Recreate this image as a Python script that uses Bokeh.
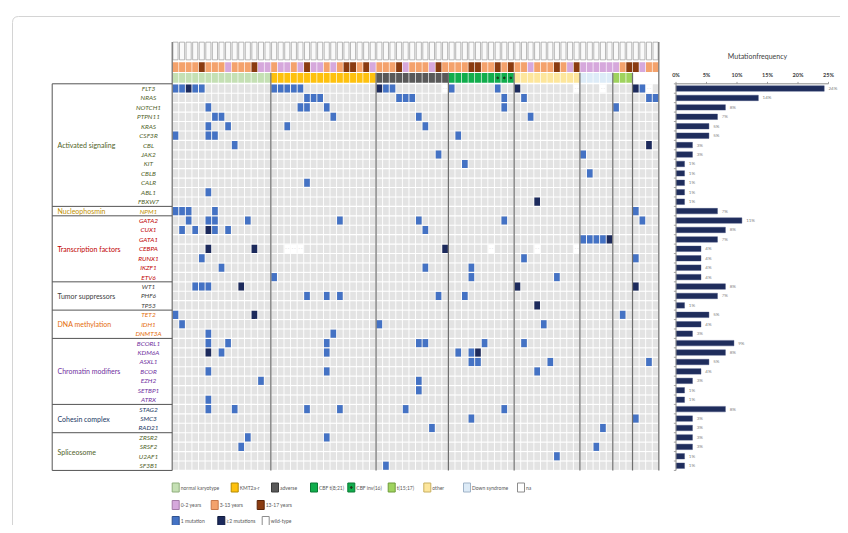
from bokeh.plotting import figure
from bokeh.models import Range1d
from bokeh.core.properties import value
from bokeh.embed import file_html
from bokeh.resources import INLINE

# ---------------- data ----------------
genes = ["FLT3", "NRAS", "NOTCH1", "PTPN11", "KRAS", "CSF3R", "CBL", "JAK2", "KIT", "CBLB", "CALR", "ABL1", "FBXW7",
         "NPM1",
         "GATA2", "CUX1", "GATA1", "CEBPA", "RUNX1", "IKZF1", "ETV6",
         "WT1", "PHF6", "TP53",
         "TET2", "IDH1", "DNMT3A",
         "BCORL1", "KDM6A", "ASXL1", "BCOR", "EZH2", "SETBP1", "ATRX",
         "STAG2", "SMC3", "RAD21",
         "ZRSR2", "SRSF2", "U2AF1", "SF3B1"]

group_names = ["Activated signaling", "Nucleophosmin", "Transcription factors", "Tumor suppressors",
               "DNA methylation", "Chromatin modifiers", "Cohesin complex", "Spliceosome"]
group_sizes = [13, 1, 7, 3, 3, 7, 3, 4]
group_colors = ["#4f6228", "#bf9000", "#c00000", "#404040", "#e46c0a", "#7030a0", "#203864", "#4f6228"]

# age per patient: L = 0-2 years, O = 3-13 years, B = 13-17 years
age = list("OOOOBOOOLOOOBLL" + "OLLOLBLLOLOBBOBL" + "OOOBLOOOLBO" + "OOOBBOOBOB" + "OOLOOOBOLB" + "LLLLL" + "LOB" + "BLOO")

# cytogenetics per patient
cyto = (["NK"] * 15 + ["KMT2A"] * 16 + ["ADV"] * 11 + ["CBF821"] * 7 + ["INV16"] * 3 +
        ["OTHER"] * 10 + ["DOWN"] * 5 + ["T1517"] * 3 + ["NA"] * 4)

# mutated patients (column index) per gene
one_mutation = {
    "FLT3": [0, 1, 3, 4, 15, 16, 17, 18, 19, 32, 33, 42, 49, 71],
    "NRAS": [20, 21, 22, 34, 35, 36, 50, 53, 72, 73],
    "NOTCH1": [5, 19, 20, 23, 50, 67],
    "PTPN11": [6, 7, 24, 37, 54],
    "KRAS": [5, 8, 17, 38],
    "CSF3R": [0, 5, 6, 43],
    "CBL": [9],
    "JAK2": [40, 62],
    "KIT": [44],
    "CBLB": [63],
    "CALR": [20],
    "ABL1": [5],
    "NPM1": [0, 1, 2, 6, 70],
    "GATA2": [2, 5, 6, 11, 25, 37, 50, 71],
    "CUX1": [1, 3, 6, 8, 38],
    "GATA1": [62, 63, 64, 65],
    "RUNX1": [4, 53, 70],
    "IKZF1": [7, 38, 45],
    "ETV6": [15, 45, 58],
    "WT1": [3, 4, 5],
    "PHF6": [20, 23, 25, 40, 44],
    "TET2": [0, 68],
    "IDH1": [1, 31, 56],
    "DNMT3A": [5, 24],
    "BCORL1": [5, 8, 23, 37, 38, 47, 53],
    "KDM6A": [7, 23, 43, 45],
    "ASXL1": [45, 46, 57, 72],
    "BCOR": [5, 23, 55],
    "EZH2": [13, 37],
    "SETBP1": [37],
    "ATRX": [5],
    "STAG2": [5, 9, 20, 25, 35, 50],
    "SMC3": [45, 70],
    "RAD21": [39, 65],
    "ZRSR2": [11, 23],
    "SRSF2": [10, 64],
    "U2AF1": [58],
    "SF3B1": [32],
}
two_mutations = {
    "FLT3": [2, 31, 52, 70],
    "CBL": [72],
    "FBXW7": [55],
    "CUX1": [5],
    "GATA1": [66],
    "CEBPA": [5, 12, 41],
    "WT1": [10, 52, 70],
    "TP53": [55],
    "TET2": [12],
    "KDM6A": [5, 46],
}
not_analysed = {
    "FLT3": [41, 61, 65, 72],
    "CEBPA": [17, 18, 19, 48, 55, 61],
}

# mutation frequency (%) per gene, as drawn, and the printed labels
freq = [24.3, 13.5, 8.1, 6.8, 5.4, 5.4, 2.7, 2.7, 1.4, 1.4, 1.4, 1.4, 1.4,
        6.8,
        10.8, 8.1, 6.8, 4.1, 4.1, 4.1, 4.1,
        8.1, 6.8, 1.4,
        5.4, 4.1, 2.7,
        9.5, 8.1, 5.4, 4.1, 2.7, 1.4, 1.4,
        8.1, 2.7, 2.7,
        2.7, 2.7, 1.4, 1.4]
freq_labels = ["24%", "14%", "8%", "7%", "5%", "5%", "3%", "3%", "1%", "1%", "1%", "1%", "1%",
               "7%",
               "11%", "8%", "7%", "4%", "4%", "4%", "4%",
               "8%", "7%", "1%",
               "5%", "4%", "3%",
               "9%", "8%", "5%", "4%", "3%", "1%", "1%",
               "8%", "3%", "3%",
               "3%", "3%", "1%", "1%"]
freq_ticks = [0, 5, 10, 15, 20, 25]

legend_cyto_labels = ["normal karyotype", "KMT2a-r", "adverse", "CBF t(8;21)", "CBF inv(16)", "t(15;17)",
                      "other", "Down syndrome", "na"]
legend_cyto_keys = ["NK", "KMT2A", "ADV", "CBF821", "INV16", "T1517", "OTHER", "DOWN", "NA"]
legend_age_labels = ["0-2 years", "3-13 years", "13-17 years"]
legend_age_keys = ["L", "O", "B"]
legend_mut_labels = ["1 mutation", "\u22652 mutations", "wild-type"]

# ---------------- styles ----------------
AGE_COL = {"L": "#d6a8dc", "O": "#f4a26c", "B": "#8a3b10"}
CYTO_COL = {"NK": "#c5e0b4", "KMT2A": "#fec10e", "ADV": "#595959", "CBF821": "#11ad4c", "INV16": "#11ad4c",
            "T1517": "#9fd35e", "OTHER": "#fde69c", "DOWN": "#ddebf7", "NA": "#ffffff"}
CYTO_GROUP = {"NK": 0, "KMT2A": 1, "ADV": 2, "CBF821": 3, "INV16": 3, "OTHER": 4, "DOWN": 5, "T1517": 6, "NA": 7}
WT_COL, ONE_COL, TWO_COL = "#e3e3e3", "#4472c4", "#1c2a5c"
FONT = value("Lato")

# layout, in picture pixels
GX0, CW = 171.7, 6.576      # heat-map left edge, column pitch
GY0, RH = 83.3, 9.43        # heat-map top edge, row pitch
BX0, BPX = 675.5, 6.1       # bar chart zero, px per %
PL, PR, PT, PB = 0, 840, 0, 525


def cx(px):
    return (px - GX0) / CW


def ry(py):
    return (py - GY0) / RH


def fx(px):
    return (px - BX0) / BPX


p = figure(width=PR - PL, height=PB - PT, output_backend="svg", toolbar_location=None,
           x_range=Range1d(cx(PL), cx(PR)), y_range=Range1d(ry(PB), ry(PT)),
           x_axis_location=None, y_axis_location=None, min_border=0,
           outline_line_color=None, background_fill_color="white", border_fill_color="white")
p.extra_x_ranges = {"freq": Range1d(fx(PL), fx(PR))}
p.xgrid.visible = False
p.ygrid.visible = False

ncol = len(age)
nrow = len(genes)
gi = {g: i for i, g in enumerate(genes)}

# outer frame
p.segment(x0=[cx(12)], y0=[ry(22)], x1=[cx(12)], y1=[ry(PB)], line_color="#d4d4d4", line_width=1)
p.segment(x0=[cx(18)], y0=[ry(16)], x1=[cx(PR)], y1=[ry(16)], line_color="#d4d4d4", line_width=1)
p.quadratic(x0=[cx(12)], y0=[ry(22)], x1=[cx(18)], y1=[ry(16)], cx=[cx(12)], cy=[ry(16)],
            line_color="#d4d4d4", line_width=1)

# wild-type background cells
bx = [c + 0.5 for r in range(nrow) for c in range(ncol)]
by = [r + 0.5 for r in range(nrow) for c in range(ncol)]
p.rect(bx, by, 0.86, 0.88, fill_color=WT_COL, line_color=None)


def cells(d):
    xs, ys = [], []
    for g, cols in d.items():
        for c in cols:
            xs.append(c + 0.5)
            ys.append(gi[g] + 0.5)
    return xs, ys


xs, ys = cells(not_analysed)
p.rect(xs, ys, 0.9, 0.9, fill_color="white", line_color=None)
p.text(xs, ys, text=["- -"] * len(xs), text_font=FONT, text_font_size="4px", text_color="#bdbdbd",
       text_align="center", text_baseline="middle")
xs, ys = cells(one_mutation)
p.rect(xs, ys, 0.86, 0.86, fill_color=ONE_COL, line_color=None)
xs, ys = cells(two_mutations)
p.rect(xs, ys, 0.86, 0.86, fill_color=TWO_COL, line_color=None)

# sample id strip, age strip, cytogenetics strip
colx = [c + 0.5 for c in range(ncol)]
p.rect(colx, [ry(50.5)] * ncol, 0.78, (59.5 - 41.8) / RH, fill_color="#fafafa", line_color="#9a9a9a",
       line_width=0.7)
p.rect(colx, [ry(66.6)] * ncol, 0.9, 9.6 / RH, fill_color=[AGE_COL[a] for a in age], line_color=None)
p.rect(colx, [ry(77.4)] * ncol, 0.9, 9.6 / RH, fill_color=[CYTO_COL[k] for k in cyto], line_color=None)
inv_x = [c + 0.5 for c in range(ncol) if cyto[c] == "INV16"]
p.scatter(inv_x, [ry(77.4)] * len(inv_x), size=1.8, color="#1b3a1b")

# group separators in heat map
bounds = [c for c in range(1, ncol) if CYTO_GROUP[cyto[c]] != CYTO_GROUP[cyto[c - 1]]]
p.segment(x0=bounds, y0=[ry(72.3)] * len(bounds), x1=bounds, y1=[nrow] * len(bounds),
          line_color="#6e6e6e", line_width=1.2)
p.segment(x0=[0, ncol], y0=[ry(41.5)] * 2, x1=[0, ncol], y1=[nrow] * 2, line_color="#6e6e6e", line_width=1.2)

# left gene-group boxes
edges = [0]
for s in group_sizes:
    edges.append(edges[-1] + s)
p.segment(x0=[cx(51.7)] * len(edges), y0=edges, x1=[0] * len(edges), y1=edges, line_color="#555555", line_width=1)
p.segment(x0=[cx(51.7)], y0=[0], x1=[cx(51.7)], y1=[nrow], line_color="#555555", line_width=1)

gcent = [(edges[i] + edges[i + 1]) / 2 for i in range(len(group_sizes))]
p.text([cx(57)] * len(group_names), gcent, text=group_names, text_font=FONT, text_font_size="7px",
       text_color=group_colors, text_align="left", text_baseline="middle", text_font_style="normal")

gene_colors = []
for name_i, s in enumerate(group_sizes):
    gene_colors += [group_colors[name_i]] * s
p.text([cx(148)] * nrow, [r + 0.5 for r in range(nrow)], text=genes, text_font=FONT, text_font_size="6.5px",
       text_color=gene_colors, text_align="center", text_baseline="middle", text_font_style="italic")

# ---------------- bar chart ----------------
rows_c = [r + 0.5 for r in range(nrow)]
p.hbar(y=rows_c, left=0, right=freq, height=0.58, fill_color="#1f2d5c", line_color="#3c4a78", line_width=0.4,
       x_range_name="freq")
p.text([f + 0.7 for f in freq], rows_c, text=freq_labels, text_font=FONT, text_font_size="4.5px",
       text_color="#7f7f7f", text_align="left", text_baseline="middle", x_range_name="freq")
# axes
p.segment(x0=[0], y0=[0], x1=[freq_ticks[-1]], y1=[0], line_color="#8c8c8c", line_width=1, x_range_name="freq")
p.segment(x0=[0], y0=[0], x1=[0], y1=[nrow], line_color="#8c8c8c", line_width=1, x_range_name="freq")
p.segment(x0=freq_ticks, y0=[0] * len(freq_ticks), x1=freq_ticks, y1=[-0.2] * len(freq_ticks),
          line_color="#8c8c8c", line_width=0.8, x_range_name="freq")
p.segment(x0=[-0.35] * (nrow + 1), y0=list(range(nrow + 1)), x1=[0] * (nrow + 1), y1=list(range(nrow + 1)),
          line_color="#8c8c8c", line_width=0.8, x_range_name="freq")
p.text(freq_ticks, [ry(74.8)] * len(freq_ticks), text=[f"{t}%" for t in freq_ticks], text_font=FONT,
       text_font_size="5.5px", text_color="#404040", text_font_style="bold", text_align="center",
       text_baseline="middle", x_range_name="freq")
p.text([fx(757)], [ry(55)], text=["Mutationfrequency"], text_font=FONT, text_font_size="7px",
       text_color="#404040", text_align="center", text_baseline="middle", x_range_name="freq")

# ---------------- legend ----------------
BOX_W, BOX_H = 7.0, 9.0


def legend_row(xs_px, y_px, fills, borders, labels):
    n = len(labels)
    p.rect([cx(x + BOX_W / 2) for x in xs_px], [ry(y_px)] * n, BOX_W / CW, BOX_H / RH,
           fill_color=fills, line_color=borders, line_width=1)
    p.text([cx(x + BOX_W + 1.5) for x in xs_px], [ry(y_px)] * n, text=labels, text_font=FONT,
           text_font_size="5px", text_color="#595959", text_align="left", text_baseline="middle")


cyto_x = [171.7, 230.7, 271.0, 310.0, 347.3, 387.7, 423.3, 463.0, 517.0]
legend_row(cyto_x, 487.0, [CYTO_COL[k] for k in legend_cyto_keys],
           ["#8fae7c", "#b48a00", "#3a3a3a", "#0b7a35", "#0b7a35", "#6e9c3a", "#c8b060", "#9fb3c8", "#8c8c8c"],
           legend_cyto_labels)
p.scatter([cx(cyto_x[4] + BOX_W / 2)], [ry(487.0)], size=1.8, color="#1b3a1b")
age_x = [171.7, 210.7, 256.7]
legend_row(age_x, 504.5, [AGE_COL[k] for k in legend_age_keys], ["#a47aa8", "#c8784a", "#5a2408"],
           legend_age_labels)
mut_x = [171.7, 217.3, 261.7]
legend_row(mut_x, 520.5, [ONE_COL, TWO_COL, "white"], ["#2f528f", "#0f1a3c", "#8c8c8c"], legend_mut_labels)

open("out.html", "w").write(file_html(p, INLINE))
